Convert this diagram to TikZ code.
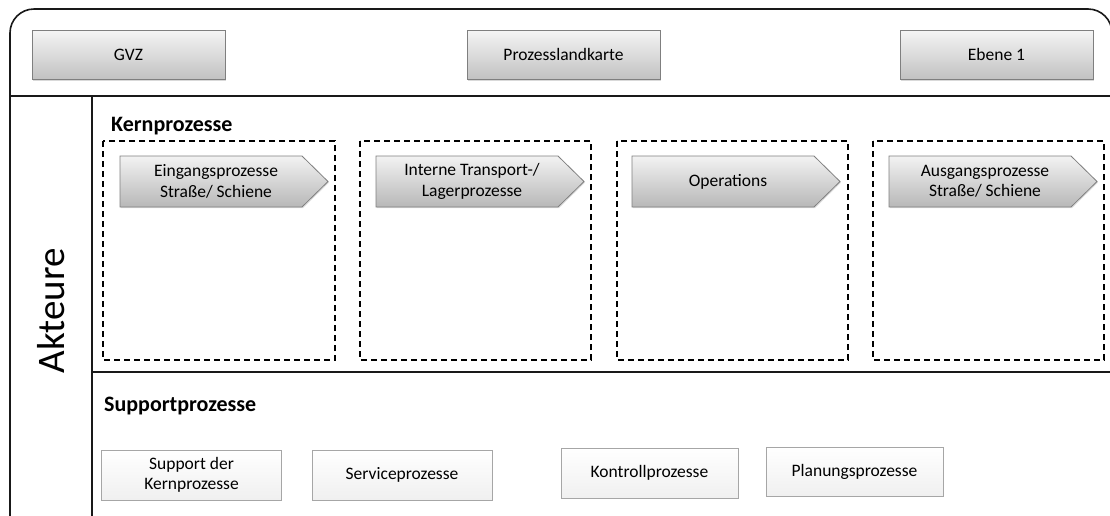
\documentclass[tikz,border=0pt]{standalone}
\usepackage{fontspec}
\setmainfont{Carlito}
\usetikzlibrary{shadows}
\definecolor{boxedge}{HTML}{7F7F7F}
\definecolor{lightedge}{HTML}{A6A6A6}
\tikzset{
  frameline/.style={line width=1.6pt, draw=black!90},
  headbox/.style={draw=boxedge, line width=0.8pt, top color=black!4, bottom color=black!24,
    minimum width=193pt, minimum height=49pt, inner sep=0pt,
    drop shadow={shadow xshift=1pt, shadow yshift=-1.5pt, opacity=0.3},
    font=\fontsize{17.5}{20.5}\selectfont},
  arrowshape/.style={draw=boxedge, line width=0.8pt, top color=black!5, bottom color=black!28,
    drop shadow={shadow xshift=1pt, shadow yshift=-1.2pt, opacity=0.25}},
  arrowtext/.style={align=center, inner sep=0pt, font=\fontsize{17.5}{20.5}\selectfont},
  groupbox/.style={draw=black, line width=1.3pt, dash pattern=on 6pt off 4pt},
  supbox/.style={draw=lightedge, line width=0.8pt, top color=white, bottom color=black!6,
    minimum width=180pt, minimum height=50pt, inner sep=0pt, align=center,
    drop shadow={shadow xshift=0.8pt, shadow yshift=-0.8pt, opacity=0.15},
    font=\fontsize{17.5}{20.5}\selectfont},
  heading/.style={anchor=base west, inner sep=0pt, font=\bfseries\fontsize{22}{26}\selectfont},
}
\begin{document}
\begin{tikzpicture}[x=1pt, y=-1pt]
\useasboundingbox (0,0) rectangle (1110,515);
\begin{scope}
  \clip (0,0) rectangle (1110,515);
  % outer frame and section dividers
  \draw[frameline, rounded corners=24pt] (10,9) rectangle (1112,540);
  \coordinate (hl) at (10,96);  \coordinate (hr) at (1112,96);
  \coordinate (vt) at (92,96);  \coordinate (vb) at (92,540);
  \coordinate (sl) at (92,372); \coordinate (sr) at (1112,372);
  \draw[frameline] (hl) -- (hr);
  \draw[frameline] (vt) -- (vb);
  \draw[frameline] (sl) -- (sr);
\end{scope}

% header row
\node[headbox] (gvz)  at (128.5,54.5) {GVZ};
\node[headbox] (pk)   at (563.5,54.5) {Prozesslandkarte};
\node[headbox] (eb)   at (996.5,54.5) {Ebene 1};

% side label
\node[rotate=90, inner sep=0pt, font=\fontsize{39}{44}\selectfont] (akt) at (51,311) {Akteure};

% core processes
\node[heading] (kern) at (111,131.5) {Kernprozesse};
\draw[groupbox] (103,141) rectangle (335,360);
\draw[groupbox] (360,141) rectangle (591,360);
\draw[groupbox] (617,141) rectangle (848,360);
\draw[groupbox] (873,141) rectangle (1104,360);

\draw[arrowshape] (120,156) -- (302,156) -- (328,181.5) -- (302,207) -- (120,207) -- cycle;
\node[arrowtext] (a1) at (216,181.5) {Eingangsprozesse\\Straße/ Schiene};
\draw[arrowshape] (376,156) -- (558,156) -- (584,181.5) -- (558,207) -- (376,207) -- cycle;
\node[arrowtext] (a2) at (472,181.5) {Interne Transport-/\\Lagerprozesse};
\draw[arrowshape] (632,156) -- (814,156) -- (840,181.5) -- (814,207) -- (632,207) -- cycle;
\node[arrowtext] (a3) at (728,181.5) {Operations};
\draw[arrowshape] (889,156) -- (1071,156) -- (1097,181.5) -- (1071,207) -- (889,207) -- cycle;
\node[arrowtext] (a4) at (985,181.5) {Ausgangsprozesse\\Straße/ Schiene};

% support processes
\node[heading] (sup) at (104,411) {Supportprozesse};
\node[supbox] (s1) at (191.5,475) {Support der\\Kernprozesse};
\node[supbox] (s2) at (402,475) {Serviceprozesse};
\node[supbox, minimum width=177pt] (s3) at (649.5,473) {Kontrollprozesse};
\node[supbox, minimum width=177pt, minimum height=49pt] (s4) at (854.5,471.5) {Planungsprozesse};
\end{tikzpicture}
\end{document}
